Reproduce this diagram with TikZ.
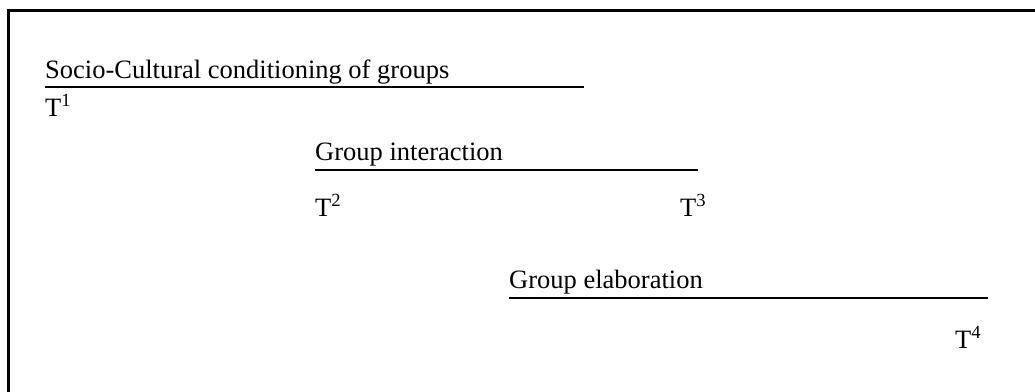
\documentclass[tikz,border=0pt]{standalone}
\usepackage{fontspec}
\setmainfont{Liberation Serif}
\usetikzlibrary{positioning}

\begin{document}
\begin{tikzpicture}[x=1pt,y=-1pt,
    lbl/.style={anchor=base west,inner sep=0pt,font=\fontsize{26.5}{30}\selectfont},
    phase/.style={line width=2pt}]
 \clip (0,0) rectangle (1035,391);
 \useasboundingbox (0,0) rectangle (1035,391);
 \draw[line width=3pt] (8,10) rectangle (1070,420);
 % phases and their time marks
 \node[lbl] (SCC) at (45,78) {Socio-Cultural conditioning of groups};
 \node[lbl] (T1) at (45,116) {T\textsuperscript{1}};
 \node[lbl] (GI) at (315,160) {Group interaction};
 \node[lbl] (T2) at (315,216) {T\textsuperscript{2}};
 \node[lbl] (T3) at (680,216) {T\textsuperscript{3}};
 \node[lbl] (GE) at (509,288) {Group elaboration};
 \node[lbl] (T4) at (955,348) {T\textsuperscript{4}};
 \coordinate (SCCend) at (584,87);
 \coordinate (GIend) at (698,170);
 \coordinate (GEend) at (988,298);
 \draw[phase] (SCC.base west |- SCCend) -- (SCCend);
 \draw[phase] (GI.base west |- GIend) -- (GIend);
 \draw[phase] (GE.base west |- GEend) -- (GEend);
\end{tikzpicture}
\end{document}
